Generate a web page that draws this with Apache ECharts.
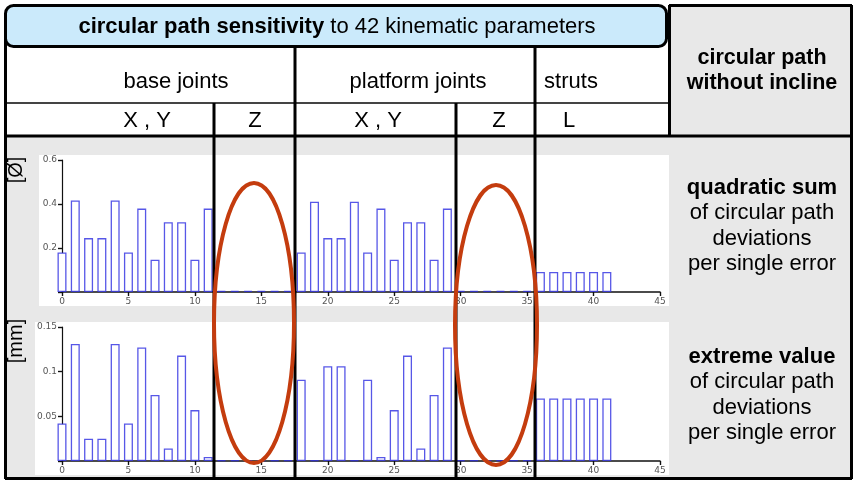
<!DOCTYPE html>
<html><head><meta charset="utf-8">
<script src="https://cdn.jsdelivr.net/npm/echarts@6/dist/echarts.min.js"></script>
<style>html,body{margin:0;padding:0;background:#fff}#c{width:853px;height:481px}</style>
</head><body><div id="c"></div>
<script>
// 42 kinematic parameters (index 0..41)
const quadraticSum = [0.18,0.416,0.245,0.245,0.416,0.18,0.379,0.147,0.317,0.317,0.147,0.379,
  0.005,0.005,0.005,0.005,0.005,0.005,
  0.18,0.41,0.245,0.245,0.41,0.18,0.379,0.147,0.317,0.317,0.147,0.379,
  0.005,0.005,0.005,0.005,0.005,0.005,
  0.091,0.091,0.091,0.091,0.091,0.091];
const extremeValue = [0.042,0.131,0.025,0.025,0.131,0.042,0.127,0.074,0.014,0.118,0.057,0.0045,
  0.001,0.001,0.001,0.001,0.001,0.001,
  0.091,0.001,0.106,0.106,0.001,0.091,0.0045,0.057,0.118,0.014,0.074,0.127,
  0.001,0.001,0.001,0.001,0.001,0.001,
  0.070,0.070,0.070,0.070,0.070,0.070];
const xTicks = {min:0, max:45, interval:5};
const yTop = {min:0, max:0.6, interval:0.2};
const yBot = {min:0, max:0.15, interval:0.05};

const chart = echarts.init(document.getElementById('c'), null, {renderer:'canvas'});
const F = 'Liberation Sans, Arial, sans-serif';
const labelStyle = {fontFamily:'DejaVu Sans', fontSize:9, color:'#555'};
function xAx(grid, inside, show){
  return {type:'value', gridIndex:grid, min:xTicks.min, max:xTicks.max, interval:xTicks.interval, z:5,
    axisLine:{show:show, lineStyle:{color:'#111', width:1.5}},
    axisTick:{show:true, inside:inside, length:4, lineStyle:{color:'#111', width:1.2}},
    axisLabel:{show:show, margin:5, ...labelStyle,
      formatter:v=>v===0?'0':String(v)},
    splitLine:{show:false}};
}
function yAx(grid, r, inside, show){
  return {type:'value', gridIndex:grid, min:r.min, max:r.max, interval:r.interval, z:5,
    axisLine:{show:show, lineStyle:{color:'#111', width:1.2}},
    axisTick:{show:true, inside:inside, length:4, lineStyle:{color:'#111', width:1.2}},
    axisLabel:{show:show, margin:5, ...labelStyle, formatter:v=>v===0?'':String(v)},
    splitLine:{show:false}};
}
const barStyle = {color:'#ffffff', borderColor:'rgba(45,45,225,0.8)', borderWidth:1.3};
function mk(arr){ return arr.map((v,i)=>[i,v]); }

const blk = {stroke:'#000', lineWidth:3};
const T = (x,y,t)=>({type:'text', z:22, x:x, y:y, style:{text:t, font:'22px '+F, fill:'#000', align:'center', verticalAlign:'middle'}});
const rich = {b:{fontWeight:'bold', fontSize:22, fontFamily:F, lineHeight:25.5, fill:'#000'}, n:{fontSize:22, fontFamily:F, lineHeight:25.5, fill:'#000'}};
const graphics = [
  // backgrounds
  {type:'rect', z:1, shape:{x:5,y:136,width:847,height:343}, style:{fill:'#e8e8e8'}},
  {type:'rect', z:1, shape:{x:669,y:5,width:183,height:131}, style:{fill:'#e8e8e8'}},
  {type:'rect', z:1, shape:{x:39,y:155,width:630,height:151}, style:{fill:'#ffffff'}},
  {type:'rect', z:1, shape:{x:35,y:322,width:634,height:153}, style:{fill:'#ffffff'}},
  // grid lines of the table
  {type:'line', z:20, shape:{x1:5,y1:103,x2:669,y2:103}, style:{stroke:'#444', lineWidth:2}},
  {type:'line', z:20, shape:{x1:5,y1:136,x2:852,y2:136}, style:blk},
  {type:'line', z:20, shape:{x1:214,y1:103,x2:214,y2:479}, style:blk},
  {type:'line', z:20, shape:{x1:295,y1:47,x2:295,y2:479}, style:blk},
  {type:'line', z:20, shape:{x1:456,y1:103,x2:456,y2:479}, style:blk},
  {type:'line', z:20, shape:{x1:535,y1:47,x2:535,y2:479}, style:blk},
  {type:'line', z:20, shape:{x1:669.5,y1:5,x2:669.5,y2:136}, style:blk},
  {type:'line', z:20, shape:{x1:669,y1:5.5,x2:852,y2:5.5}, style:blk},
  {type:'line', z:20, shape:{x1:851.5,y1:5,x2:851.5,y2:479}, style:blk},
  {type:'line', z:20, shape:{x1:5.5,y1:20,x2:5.5,y2:479}, style:blk},
  {type:'line', z:20, shape:{x1:5,y1:478.5,x2:852,y2:478.5}, style:blk},
  // title box
  {type:'rect', z:21, shape:{x:5.5,y:5.5,width:661,height:41,r:8}, style:{fill:'#cbeafb', stroke:'#000', lineWidth:3}},
  {type:'text', z:22, x:337, y:27, style:{rich:{b:{fontWeight:'bold', fontSize:22, fontFamily:F, fill:'#000'}, n:{fontSize:22, fontFamily:F, fill:'#000'}},
     text:'{b|circular path sensitivity}{n| to 42 kinematic parameters}', align:'center', verticalAlign:'middle'}},
  // headers
  T(176,82,'base joints'), T(418,82,'platform joints'), T(571,82,'struts'),
  T(147,121,'X , Y'), T(255,121,'Z'), T(378,121,'X , Y'), T(499,121,'Z'), T(569,121,'L'),
  {type:'text', z:22, x:762, y:71, style:{text:'circular path\nwithout incline', font:'bold 21.5px '+F, lineHeight:25, fill:'#000', align:'center', verticalAlign:'middle'}},
  // right descriptions
  {type:'text', z:22, x:762, y:226, style:{rich:rich,
     text:'{b|quadratic sum}\n{n|of circular path}\n{n|deviations}\n{n|per single error}', align:'center', verticalAlign:'middle'}},
  {type:'text', z:22, x:762, y:395, style:{rich:rich,
     text:'{b|extreme value}\n{n|of circular path}\n{n|deviations}\n{n|per single error}', align:'center', verticalAlign:'middle'}},
  // unit labels
  {type:'text', z:22, x:16, y:170, rotation:Math.PI/2, style:{text:'[Ø]', font:'20px '+F, fill:'#000', align:'center', verticalAlign:'middle'}},
  {type:'text', z:22, x:16, y:341, rotation:Math.PI/2, style:{text:'[mm]', font:'20px '+F, fill:'#000', align:'center', verticalAlign:'middle'}},
  // highlight ellipses
  {type:'ellipse', z:25, shape:{cx:254, cy:323, rx:40, ry:140}, style:{fill:null, stroke:'#c43c0e', lineWidth:4}},
  {type:'ellipse', z:25, shape:{cx:496, cy:325, rx:41, ry:140}, style:{fill:null, stroke:'#c43c0e', lineWidth:4}}
];

chart.setOption({
  animation:false,
  backgroundColor:'#ffffff',
  grid:[
    {left:62, width:598, top:160, height:132},
    {left:62, width:598, top:327, height:134}
  ],
  xAxis:[xAx(0,false,true), xAx(1,false,true), xAx(0,true,false), xAx(1,true,false)],
  yAxis:[yAx(0,yTop,false,true), yAx(1,yBot,false,true), yAx(0,yTop,true,false), yAx(1,yBot,true,false)],
  series:[
    {type:'bar', xAxisIndex:0, yAxisIndex:0, data:mk(quadraticSum), barWidth:9, clip:false, z:6, itemStyle:barStyle},
    {type:'bar', xAxisIndex:1, yAxisIndex:1, data:mk(extremeValue), barWidth:9, clip:false, z:6, itemStyle:barStyle}
  ],
  graphic:{elements:graphics}
});
</script></body></html>
